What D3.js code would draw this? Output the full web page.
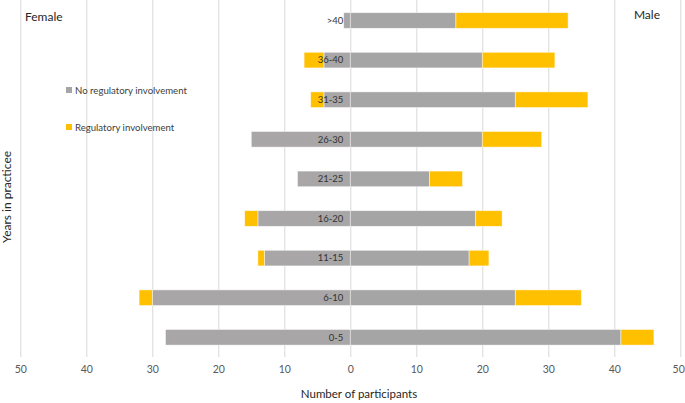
<!DOCTYPE html>
<html><head><meta charset="utf-8">
<script src="https://cdn.jsdelivr.net/npm/d3@7"></script>
<style>body{margin:0;background:#fff}svg{display:block}text{font-family:Lato,"Open Sans",sans-serif}</style>
</head><body><svg id="c" width="685" height="403"></svg>
<script>
const categories = [">40","36-40","31-35","26-30","21-25","16-20","11-15","6-10","0-5"];
const femaleNoReg = [1,4,4,15,8,14,13,30,28];
const femaleReg   = [0,3,2,0,0,2,1,2,0];
const maleNoReg   = [16,20,25,20,12,19,18,25,41];
const maleReg     = [17,11,11,9,5,4,3,10,5];
const tickValues = [-50,-40,-30,-20,-10,0,10,20,30,40,50];
const seriesNames = ["No regulatory involvement","Regulatory involvement"];

const svg = d3.select("#c");
const x = d3.scaleLinear().domain([-50,50]).range([20.3,680.3]);
const y = d3.scaleBand().domain(categories).range([0.7,357.1]).paddingInner(0.606).paddingOuter(0.303);
const grey = "#A5A5A5", greyF = "#A8A6A7", gold = "#FFC000";

// gridlines
svg.append("g").selectAll("line").data(tickValues).join("line")
  .attr("x1",d=>x(d)+0.5).attr("x2",d=>x(d)+0.5).attr("y1",0).attr("y2",357)
  .attr("stroke","#D9D9D9").attr("stroke-width",1);

// axis labels
const ax = d3.axisBottom(x).tickValues(tickValues).tickFormat(d=>Math.abs(d)).tickSize(0);
const g = svg.append("g").attr("transform","translate(0,363)").call(ax);
g.select(".domain").remove();
g.selectAll("text").attr("fill","#595959").attr("font-size","10.5px").attr("font-family","Lato,sans-serif");
g.selectAll(".tick").filter(d=>d===50).select("text").attr("text-anchor","end").attr("x",4);

const bars = svg.append("g");
categories.forEach((c,i)=>{
  const segs = [
    {x0:-femaleNoReg[i], x1:0, col:greyF},
    {x0:-(femaleNoReg[i]+femaleReg[i]), x1:-femaleNoReg[i], col:gold},
    {x0:0, x1:maleNoReg[i], col:grey},
    {x0:maleNoReg[i], x1:maleNoReg[i]+maleReg[i], col:gold}
  ];
  segs.forEach(s=>{
    if (s.x1 - s.x0 <= 0) return;
    bars.append("rect").attr("x",x(s.x0)).attr("width",x(s.x1)-x(s.x0))
      .attr("y",y(c)).attr("height",y.bandwidth()).attr("fill",s.col)
      .attr("stroke","#fff").attr("stroke-opacity",0.6).attr("stroke-width",0.75);
  });
  svg.append("text").attr("x",x(0)-7).attr("y",y(c)+y.bandwidth()/2).attr("dy","0.35em")
    .attr("text-anchor","end").attr("font-size","9.5px").attr("fill","#333").text(c);
});

svg.append("text").attr("x",25).attr("y",21).attr("font-size","12px").attr("fill","#262626").text("Female");
svg.append("text").attr("x",660).attr("y",19).attr("text-anchor","end").attr("font-size","12px").attr("fill","#262626").text("Male");

// legend
const leg = svg.append("g");
[[grey, 91],[gold,128]].forEach((d,i)=>{
  leg.append("rect").attr("x",66).attr("y",d[1]-4).attr("width",6).attr("height",6).attr("fill",d[0]);
  leg.append("text").attr("x",75).attr("y",d[1]).attr("dy","0.3em").attr("font-size","9.6px").attr("fill","#404040").text(seriesNames[i]);
});

svg.append("text").attr("x",359).attr("y",398).attr("text-anchor","middle").attr("font-size","11.5px").attr("fill","#262626").text("Number of participants");
svg.append("text").attr("transform","translate(11,197) rotate(-90)").attr("text-anchor","middle").attr("font-size","12px").attr("fill","#262626").text("Years in practicee");
</script></body></html>
